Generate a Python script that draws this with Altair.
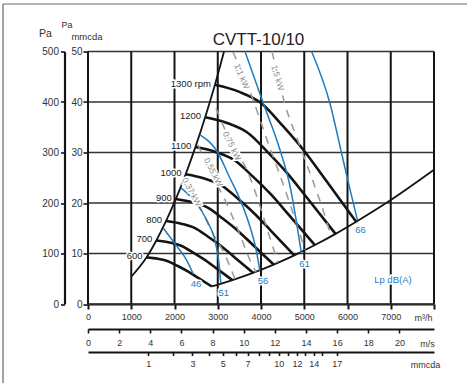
import altair as alt
import pandas as pd

FONT_N = "Liberation Sans Narrow, Arial Narrow, Liberation Sans, Arial, sans-serif"
FONT = "Liberation Sans, Arial, sans-serif"
BLUE = "#1f7bbf"
GREY = "#9a9a9a"
INK = "#141414"

# ---------------- data ----------------
title_text = "CVTT-10/10"

# fan curves (airflow m3/h, static pressure mmcda)
rpm_speeds = [600, 700, 800, 900, 1000, 1100, 1200, 1300]
rpm_text = ["600", "700", "800", "900", "1000", "1100", "1200", "1300 rpm"]
fan_q = [
    [1355, 1615, 1846, 2077, 2308, 2538, 2862],
    [1580, 1885, 2154, 2423, 2692, 2962, 3338],
    [1806, 2154, 2462, 2769, 3077, 3385, 3815],
    [2032, 2423, 2769, 3115, 3462, 3808, 4292],
    [2258, 2692, 3077, 3462, 3846, 4231, 4769],
    [2483, 2962, 3385, 3808, 4231, 4654, 5246],
    [2709, 3231, 3692, 4154, 4615, 5077, 5723],
    [2935, 3500, 4000, 4500, 5000, 5500, 6200],
]
fan_p = [
    [9.24, 8.95, 8.48, 7.52, 6.45, 5.22, 3.47],
    [12.58, 12.18, 11.54, 10.23, 8.78, 7.10, 4.73],
    [16.44, 15.91, 15.07, 13.37, 11.47, 9.28, 6.17],
    [20.80, 20.13, 19.08, 16.92, 14.52, 11.74, 7.81],
    [25.68, 24.85, 23.55, 20.89, 17.93, 14.50, 9.64],
    [31.07, 30.07, 28.50, 25.27, 21.69, 17.54, 11.67],
    [36.98, 35.79, 33.91, 30.08, 25.82, 20.88, 13.89],
    [43.4, 42.0, 39.8, 35.3, 30.3, 24.5, 16.3],
]

# left (stall) limit and lower limit
stall_q = [1000, 1355, 1580, 1806, 2032, 2258, 2483, 2709, 2935, 3145]
stall_p = [5.4, 9.24, 12.58, 16.44, 20.80, 25.68, 31.07, 36.98, 43.4, 50.0]
limit_q = [2862, 3338, 3815, 4292, 4769, 5246, 5723, 6200, 7000, 8000]
limit_p = [3.47, 4.73, 6.17, 7.81, 9.64, 11.67, 13.89, 16.3, 20.6, 26.6]

# sound level lines Lp dB(A)
sound_names = ["46", "51", "56", "61", "66"]
sound_q = [
    [1740, 2030, 2280, 2430],
    [2150, 2450, 2750, 2950, 3030, 3070],
    [2590, 3000, 3250, 3500, 3720, 3880, 3975],
    [3630, 4055, 4440, 4680, 4815, 4935],
    [5170, 5595, 5865, 6060, 6230],
]
sound_p = [
    [15.0, 11.7, 8.7, 6.0],
    [23.0, 20.5, 16.5, 12.0, 8.0, 4.1],
    [33.5, 30.0, 25.5, 21.0, 16.0, 11.0, 6.6],
    [50.0, 39.7, 30.5, 23.0, 16.5, 10.0],
    [50.0, 39.7, 29.8, 22.6, 16.6],
]

# absorbed power lines
power_names = ["0,37 kW", "0,55 kW", "0,75 kW", "1,1 kW", "1,5 kW"]
power_q = [
    [2243, 2590, 2867, 3168, 3400],
    [2543, 2867, 3168, 3468, 3746, 3884],
    [2960, 3330, 3676, 3931, 4162, 4393],
    [3353, 3792, 4139, 4439, 4717, 5017],
    [4255, 4555, 4870, 5150, 5400, 5620],
]
power_p = [
    [25.0, 19.2, 14.3, 9.7, 4.9],
    [31.5, 25.5, 20.6, 14.7, 8.7, 6.3],
    [38.8, 31.5, 26.5, 20.6, 14.3, 8.2],
    [49.9, 41.0, 32.5, 25.5, 18.6, 10.7],
    [50.0, 39.5, 32.0, 25.5, 19.5, 13.4],
]
power_label_q = [2400, 2900, 3330, 3560, 4390]
power_label_p = [22.2, 26.1, 31.3, 45.1, 44.8]
power_label_angle = [62, 63, 64, 67, 74]

lp_text = ["Lp dB(A)"]
lp_q = [7050]
lp_p = [4.75]

# axis ticks
flow_ticks = [0, 1000, 2000, 3000, 4000, 5000, 6000, 7000, 8000]
mmcda_ticks = [0, 10, 20, 30, 40, 50]
pa_ticks = [0, 100, 200, 300, 400, 500]
ms_ticks = [0, 2, 4, 6, 8, 10, 12, 14, 16, 18, 20]
pd_ticks = [1, 2, 3, 4, 5, 6, 7, 8, 9, 10, 11, 12, 13, 14, 15, 17]
pd_labels = [1, 3, 5, 7, 10, 12, 14, 17]

# ---------------- tables ----------------
def long_table(names, qs, ps, key):
    rows = []
    for n, ql, pl in zip(names, qs, ps):
        for i, (q, p) in enumerate(zip(ql, pl)):
            rows.append({key: n, "i": i, "q": q, "p": p})
    return pd.DataFrame(rows)

fan_df = long_table(rpm_speeds, fan_q, fan_p, "rpm")
bound_df = long_table(["stall", "limit"], [stall_q, limit_q], [stall_p, limit_p], "b")
sound_df = long_table(sound_names, sound_q, sound_p, "db")
power_df = long_table(power_names, power_q, power_p, "kw")

rpm_lab_df = pd.DataFrame({"t": rpm_text, "q": [q[0] for q in fan_q], "p": [p[0] for p in fan_p]})
snd_lab_df = pd.DataFrame({"t": sound_names, "q": [q[-1] for q in sound_q], "p": [p[-1] for p in sound_p]})
pw_lab_df = pd.DataFrame({"t": power_names, "q": power_label_q, "p": power_label_p, "a": power_label_angle})
lp_df = pd.DataFrame({"t": lp_text, "q": lp_q, "p": lp_p})
vgrid_df = pd.DataFrame({"q": flow_ticks})
hgrid_df = pd.DataFrame({"p": mmcda_ticks})

xs = alt.Scale(domain=[0, 8000], nice=False, zero=False)
ys = alt.Scale(domain=[0, 50], nice=False, zero=False)

x_axis = alt.Axis(
    values=flow_ticks, format="d", labelExpr="datum.value >= 8000 ? '' : datum.label",
    grid=False, tickSize=5, tickWidth=2, tickColor=INK,
    domainColor=INK, domainWidth=2, labelFont=FONT_N, labelFontSize=9, labelColor="#333",
    labelPadding=3, labelFlush=False, labelOverlap=False,
    title="m³/h", titleFont=FONT_N, titleFontSize=9, titleFontWeight="normal", titleColor="#333",
    titleX=335, titleY=13, titleAlign="center", titleBaseline="middle", titleAngle=0,
)
y_axis = alt.Axis(
    values=mmcda_ticks, format="d", grid=False,
    tickSize=5, tickWidth=1.6, tickColor=INK, domain=False,
    labelFont=FONT, labelFontSize=10, labelColor="#333", labelPadding=1, labelOverlap=False,
    title="mmcda", titleFont=FONT_N, titleFontSize=9.5, titleFontWeight="normal", titleColor="#333",
    titleX=-1.5, titleY=-15, titleAlign="center", titleBaseline="middle", titleAngle=0,
)
X = alt.X("q:Q", scale=xs, axis=x_axis)
Y = alt.Y("p:Q", scale=ys, axis=y_axis)

hgrid = alt.Chart(hgrid_df).mark_rule(color="#333", strokeWidth=1.6).encode(y=Y)
vgrid = alt.Chart(vgrid_df).mark_rule(color=INK, strokeWidth=2).encode(x=X)

fan = alt.Chart(fan_df).mark_line(color=INK, strokeWidth=2.6, interpolate="monotone").encode(
    x=X, y=Y, detail="rpm:N", order="i:Q")
bounds = alt.Chart(bound_df).mark_line(color=INK, strokeWidth=1.8, interpolate="monotone").encode(
    x=X, y=Y, detail="b:N", order="i:Q")
sound = alt.Chart(sound_df).mark_line(color=BLUE, strokeWidth=1.5, interpolate="monotone").encode(
    x=X, y=Y, detail="db:N", order="i:Q")
power = alt.Chart(power_df).mark_line(color=GREY, strokeWidth=1.5, strokeDash=[8, 7],
                                      interpolate="monotone").encode(
    x=X, y=Y, detail="kw:N", order="i:Q")

rpm_halo = alt.Chart(rpm_lab_df).mark_text(align="right", baseline="middle", dx=-4, dy=-1, font=FONT_N,
                                           fontSize=9.5, stroke="white", strokeWidth=3, fill="white").encode(
    x=X, y=Y, text="t:N")
rpm_lab = alt.Chart(rpm_lab_df).mark_text(align="right", baseline="middle", dx=-4, dy=-1, font=FONT_N,
                                          fontSize=9.5, color="#222").encode(x=X, y=Y, text="t:N")
pw_halo = alt.Chart(pw_lab_df).mark_text(align="center", baseline="middle", font=FONT_N, fontSize=8.5,
                                         stroke="white", strokeWidth=3, fill="white").encode(
    x=X, y=Y, text="t:N", angle=alt.Angle("a:Q", scale=None))
pw_lab = alt.Chart(pw_lab_df).mark_text(align="center", baseline="middle", font=FONT_N, fontSize=8.5,
                                        color="#8a8a8a").encode(
    x=X, y=Y, text="t:N", angle=alt.Angle("a:Q", scale=None))
snd_halo = alt.Chart(snd_lab_df).mark_text(align="center", baseline="middle", dx=3, dy=10, font=FONT_N,
                                           fontSize=9.5, stroke="white", strokeWidth=3, fill="white").encode(
    x=X, y=Y, text="t:N")
snd_lab = alt.Chart(snd_lab_df).mark_text(align="center", baseline="middle", dx=3, dy=10, font=FONT_N,
                                          fontSize=9.5, color=BLUE).encode(x=X, y=Y, text="t:N")
lp_halo = alt.Chart(lp_df).mark_text(align="center", baseline="middle", font=FONT_N, fontSize=9.5,
                                     stroke="white", strokeWidth=3, fill="white").encode(
    x=X, y=Y, text="t:N")
lp_lab = alt.Chart(lp_df).mark_text(align="center", baseline="middle", font=FONT_N, fontSize=9.5,
                                    color=BLUE).encode(x=X, y=Y, text="t:N")

dummy = pd.DataFrame({"a": [0]})
title_mark = alt.Chart(dummy).mark_text(text=title_text, font=FONT_N, fontSize=17, color="#222",
                                        align="center", baseline="alphabetic").encode(
    x=alt.value(170.5), y=alt.value(-7))
small_pa = alt.Chart(dummy).mark_text(text="Pa", font=FONT_N, fontSize=9, color="#333",
                                      align="center", baseline="middle").encode(
    x=alt.value(-21), y=alt.value(-26.5))
frame_top = alt.Chart(dummy).mark_rule(color="#666", strokeWidth=1.2).encode(
    x=alt.value(-85), x2=alt.value(379), y=alt.value(-47.5))
frame_left = alt.Chart(dummy).mark_rule(color="#666", strokeWidth=1.2).encode(
    x=alt.value(-85), y=alt.value(-47.5), y2=alt.value(331.5))

inner = alt.layer(hgrid, vgrid, fan, bounds, power, sound, pw_halo, pw_lab, rpm_halo, rpm_lab,
                  snd_halo, snd_lab, lp_halo, lp_lab, title_mark, small_pa, frame_top, frame_left)

pa_layer = alt.Chart(pd.DataFrame({"pa": pa_ticks})).mark_point(opacity=0).encode(
    y=alt.Y("pa:Q", scale=alt.Scale(domain=[0, 500], nice=False),
            axis=alt.Axis(orient="left", offset=23.5, values=pa_ticks, format="d", grid=False,
                          tickSize=4, tickWidth=1.6, tickColor=INK, domainColor=INK, domainWidth=2.2,
                          labelFont=FONT, labelFontSize=10, labelColor="#333", labelPadding=2,
                          labelOverlap=False, title="Pa", titleFont=FONT_N, titleFontSize=10.5,
                          titleFontWeight="normal", titleColor="#333", titleX=-19.5, titleY=-18,
                          titleAlign="center", titleBaseline="middle", titleAngle=0)))

ms_layer = alt.Chart(pd.DataFrame({"v": ms_ticks})).mark_point(opacity=0).encode(
    x=alt.X("v:Q", scale=alt.Scale(domain=[0, 8000 / 360], nice=False, zero=True),
            axis=alt.Axis(orient="bottom", offset=25, values=ms_ticks, format="d", grid=False,
                          tickSize=4, tickWidth=1.6, tickColor=INK, domainColor=INK, domainWidth=2,
                          labelFont=FONT_N, labelFontSize=9, labelColor="#333", labelPadding=5,
                          labelFlush=False, labelOverlap=False, title="m/s", titleFont=FONT_N,
                          titleFontSize=9, titleFontWeight="normal", titleColor="#333",
                          titleX=339, titleY=14, titleAlign="center", titleBaseline="middle")))

pd_layer = alt.Chart(pd.DataFrame({"d": pd_ticks})).mark_point(opacity=0).encode(
    x=alt.X("d:Q", scale=alt.Scale(type="sqrt", domain=[0, 32.92], nice=False, zero=True),
            axis=alt.Axis(orient="bottom", offset=48, values=pd_ticks, format="d", grid=False,
                          labelExpr="indexof([1,3,5,7,10,12,14,17], datum.value) >= 0 ? datum.label : ''",
                          tickSize=3.5, tickWidth=1.6, tickColor=INK, domainColor=INK, domainWidth=2,
                          labelFont=FONT_N, labelFontSize=9, labelColor="#333", labelPadding=4,
                          labelFlush=False, labelOverlap=False, title="mmcda", titleFont=FONT_N,
                          titleFontSize=9, titleFontWeight="normal", titleColor="#333",
                          titleX=337, titleY=12, titleAlign="center", titleBaseline="middle")))

chart = alt.layer(inner, pa_layer, ms_layer, pd_layer).resolve_scale(
    x="independent", y="independent"
).properties(
    width=346, height=252.5,
    padding={"left": 88, "top": 51.5, "right": 35, "bottom": 79},
    autosize=alt.AutoSizeParams(type="none"),
    background="white",
).configure_view(stroke=None)

chart.save("out.html", embed_options={"renderer": "svg", "actions": False})
